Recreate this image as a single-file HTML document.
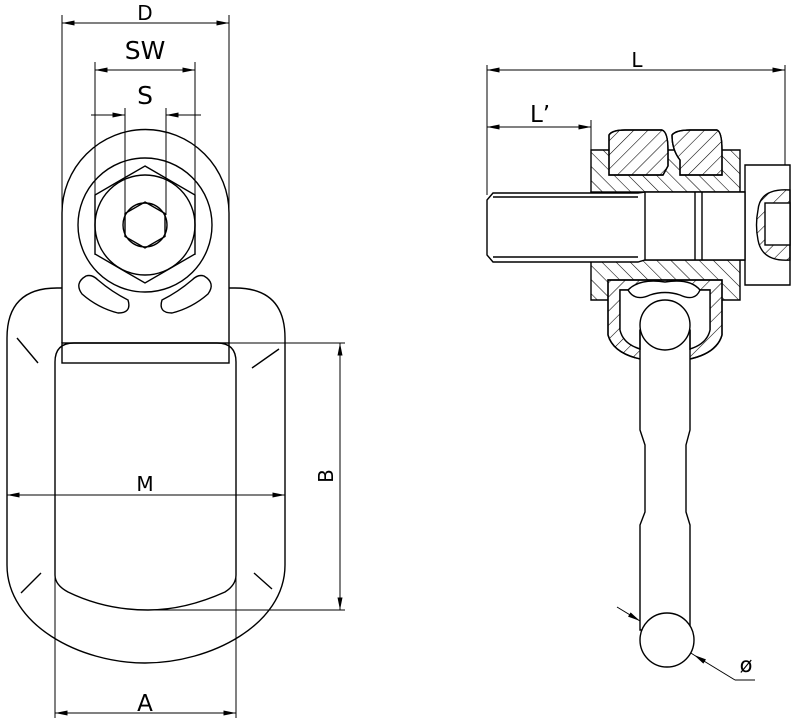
<!DOCTYPE html>
<html><head><meta charset="utf-8"><style>html,body{margin:0;padding:0;background:#fff}svg{display:block}</style></head>
<body>
<svg width="808" height="727" viewBox="0 0 808 727" xmlns="http://www.w3.org/2000/svg" font-family="DejaVu Sans, Liberation Sans, sans-serif">
<defs>
<pattern id="h" width="10" height="10" patternUnits="userSpaceOnUse" patternTransform="rotate(45)"><line x1="0" y1="0" x2="0" y2="10" stroke="#000" stroke-width="1.1"/></pattern>
<pattern id="h2" width="10" height="10" patternUnits="userSpaceOnUse" patternTransform="rotate(-45)"><line x1="0" y1="0" x2="0" y2="10" stroke="#000" stroke-width="1.1"/></pattern>
<marker id="a" viewBox="0 0 10 4" refX="10" refY="2" markerWidth="14" markerHeight="5" orient="auto-start-reverse" markerUnits="userSpaceOnUse"><path d="M0,0L10,2L0,4z" fill="#000"/></marker>
</defs>
<g fill="none" stroke="#000" stroke-width="1.4">
<path d="M62,288 H57 Q7,288 7,338 V565 C7,625 80,663 145,663 C210,663 285,625 285,565 V338 Q285,288 235,288 H229"/>
<path d="M55,575 V362 Q55,343 74,343 H217 Q236,343 236,362 V575 Q236,585 225,592 Q185,610 148,610 Q105,610 68,592 Q55,585 55,575"/>
<path d="M62,343 V213 A83.5,83.5 0 0 1 229,213 V343"/>
<rect x="62" y="343" width="167" height="20"/>
<circle cx="145" cy="225" r="67"/>
<polygon points="145,166 195,195 195,254 145,283 95,254 95,195"/>
<circle cx="145" cy="225" r="50"/>
<polygon points="145,202 165,213.5 165,236.5 145,248 125,236.5 125,213.5"/>
<circle cx="145" cy="225" r="22"/>
<path d="M86,276 Q74,283 82,294 Q98,308 118,313 Q132,313 128,300 Q112,292 98,280 Q92,274 86,276Z"/>
<path d="M204,276 Q216,283 208,294 Q192,308 172,313 Q158,313 162,300 Q178,292 192,280 Q198,274 204,276Z"/>
<path d="M17,338 L38,363 M252,368 L279,349 M21,593 L41,573 M254,573 L272,589"/>
</g>
<g fill="none" stroke="#000" stroke-width="1">
<path d="M62,15 V343 M229,15 V343 M95,62 V255 M195,62 V255 M125,108 V215 M166,108 V215"/>
<line x1="62" y1="23" x2="229" y2="23" marker-start="url(#a)" marker-end="url(#a)"/>
<line x1="95" y1="70" x2="195" y2="70" marker-start="url(#a)" marker-end="url(#a)"/>
<line x1="91" y1="115" x2="125" y2="115" marker-end="url(#a)"/>
<line x1="201" y1="115" x2="166" y2="115" marker-end="url(#a)"/>
<line x1="7" y1="495" x2="285" y2="495" marker-start="url(#a)" marker-end="url(#a)"/>
<path d="M229,343 H345 M148,610 H345 M55,575 V718 M236,575 V718"/>
<line x1="340" y1="343" x2="340" y2="610" marker-start="url(#a)" marker-end="url(#a)"/>
<line x1="55" y1="713" x2="236" y2="713" marker-start="url(#a)" marker-end="url(#a)"/>
<path d="M487,65 V195 M785,65 V165 M591,120 V150"/>
<line x1="487" y1="70" x2="785" y2="70" marker-start="url(#a)" marker-end="url(#a)"/>
<line x1="487" y1="127" x2="591" y2="127" marker-start="url(#a)" marker-end="url(#a)"/>
<line x1="617" y1="607" x2="640" y2="621" marker-end="url(#a)"/>
<line x1="755" y1="680" x2="735" y2="680"/>
<line x1="735" y1="680" x2="694" y2="655" marker-end="url(#a)"/>
<line x1="640" y1="621" x2="694" y2="655"/>
</g>
<g fill="#000" font-size="20" text-anchor="middle" font-weight="normal">
<text x="145" y="20">D</text>
<text x="145" y="59" font-size="25">SW</text>
<text x="145" y="104" font-size="25">S</text>
<text x="145" y="491">M</text>
<text x="145" y="711" font-size="23">A</text>
<text x="333" y="476" transform="rotate(-90 333 476)">B</text>
<text x="637" y="67">L</text>
<text x="540" y="122" font-size="23">L’</text>
<text x="746" y="672" font-size="21">ø</text>
</g>
<g stroke="#000" stroke-width="1.4">
<path d="M591,150 H740 V300 H591 Z" fill="url(#h2)"/>
<path d="M609,135 Q612,130 625,130 H662 Q668,132 668,150 V166 L663,175 H609 Z M672,135 Q676,130 690,130 H717 Q722,132 722,150 V175 H680 V160 Q672,150 672,135Z" fill="#fff"/>
<path d="M609,135 Q612,130 625,130 H662 Q668,132 668,150 V166 L663,175 H609 Z M672,135 Q676,130 690,130 H717 Q722,132 722,150 V175 H680 V160 Q672,150 672,135Z" fill="url(#h)"/>
<rect x="591" y="192" width="154" height="68" fill="#fff"/>
<path d="M608,280 H722 V335 Q715,360 665,362 Q615,360 608,335 Z" fill="#fff"/>
<path d="M608,280 H722 V335 Q715,360 665,362 Q615,360 608,335 Z M620,290 V330 Q625,352 665,352 Q705,352 710,330 V290 Z" fill="url(#h)" fill-rule="evenodd"/>
<path d="M620,290 V330 Q625,352 665,352 Q705,352 710,330 V290 Z" fill="#fff"/>
<path d="M745,165 H790 V285 H745 Z" fill="#fff"/>
<path d="M790,190 Q760,188 758,210 Q755,225 758,240 Q762,262 790,260 Z" fill="url(#h)"/>
<rect x="765" y="203" width="25" height="42" fill="#fff"/>
</g>
<g fill="#fff" stroke="#000" stroke-width="1.4">
<path d="M487,200 L493,193 H638 L645,192 H745 V260 H645 L638,262 H493 L487,255 Z"/>
<path d="M493,197 H638 M493,257 H638 M645,192 V260 M695,192 V260 M702,192 V260" fill="none"/>
<path d="M640,330 V430 L645,445 V512 L640,525 V630 H690 V525 L686,512 V445 L690,430 V330 Z"/>
<circle cx="665" cy="325" r="25"/>
<path d="M640,330 V350 M690,330 V350" fill="none"/>
<path d="M628,290 Q640,278 665,282 Q690,278 700,290 Q695,302 680,295 Q665,290 650,295 Q635,302 628,290Z"/>
<circle cx="667" cy="640" r="27"/>
</g>
</svg>
</body></html>
